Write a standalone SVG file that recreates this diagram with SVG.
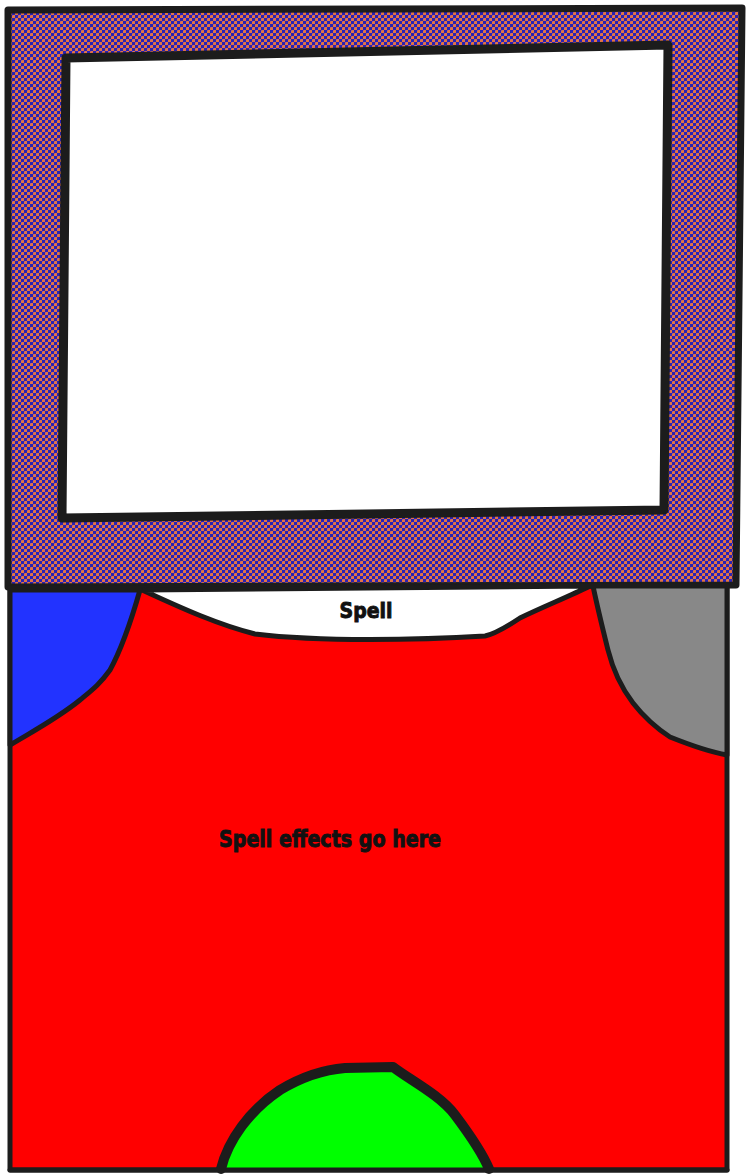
<svg xmlns="http://www.w3.org/2000/svg" width="751" height="1175" viewBox="0 0 751 1175">
<defs>
<pattern id="chk" width="6" height="6" patternUnits="userSpaceOnUse">
<rect width="6" height="6" fill="#e27444"/>
<rect x="0" y="0" width="3" height="3" fill="#2a22b4"/>
<rect x="3" y="3" width="3" height="3" fill="#2a22b4"/>
<rect x="3" y="0" width="1" height="1" fill="#9a5a9a"/>
<rect x="0" y="3" width="1" height="1" fill="#9a5a9a"/>
</pattern>
</defs>
<style>
.ln{stroke:#1c1c1c;stroke-linejoin:round;stroke-linecap:round}
.t{font-family:"DejaVu Sans Condensed","DejaVu Sans",sans-serif;font-weight:bold;fill:#111;stroke:#111;stroke-width:0.9}
</style>
<rect width="751" height="1175" fill="#ffffff"/>
<g id="frame">
<path class="ln" d="M8,10 L742,8 L736,585 L8,587 Z" fill="url(#chk)" stroke-width="7"/>
<path class="ln" d="M66,58 L668,45 L664,510 L62,518 Z" fill="#ffffff" stroke-width="9"/>
</g>
<g id="card-body">
<path class="ln" d="M10,588 L727,586 L727,1170 L10,1170 Z" fill="#ff0000" stroke-width="5"/>
</g>
<g id="spell-banner">
<path class="ln" d="M142,590 L590,586 C 570,596 545,606 520,618 C 505,628 495,634 485,636 C 420,640 320,642 255,634 C 215,624 175,605 142,590 Z" fill="#ffffff" stroke-width="5"/>
<text class="t" x="366" y="618" font-size="22" text-anchor="middle" textLength="53" lengthAdjust="spacingAndGlyphs">Spell</text>
</g>
<g id="blue-corner">
<path class="ln" d="M10,590 L140,590 C 132,618 122,648 110,670 C 100,684 92,690 80,700 C 58,718 35,730 10,745 Z" fill="#2233ff" stroke-width="5"/>
</g>
<g id="gray-corner">
<path class="ln" d="M593,586 L727,586 L727,755 C 710,752 690,745 670,737 C 650,724 640,712 633,703 C 620,686 613,670 608,650 C 603,630 598,610 593,586 Z" fill="#888888" stroke-width="5"/>
</g>
<g id="effects">
<text class="t" x="330" y="847" font-size="23" text-anchor="middle" textLength="222" lengthAdjust="spacingAndGlyphs">Spell effects go here</text>
</g>
<g id="green-dome">
<path class="ln" d="M221,1169 C 228,1140 250,1110 280,1090 C 300,1078 320,1070 345,1068 L393,1067 C 410,1080 440,1095 455,1115 C 470,1135 482,1152 489,1169" fill="#00ff00" stroke-width="10"/>
</g>
<g id="bottom-edge">
<path class="ln" d="M10,1170 L727,1170" fill="none" stroke="#333" stroke-width="5"/>
</g>
</svg>
